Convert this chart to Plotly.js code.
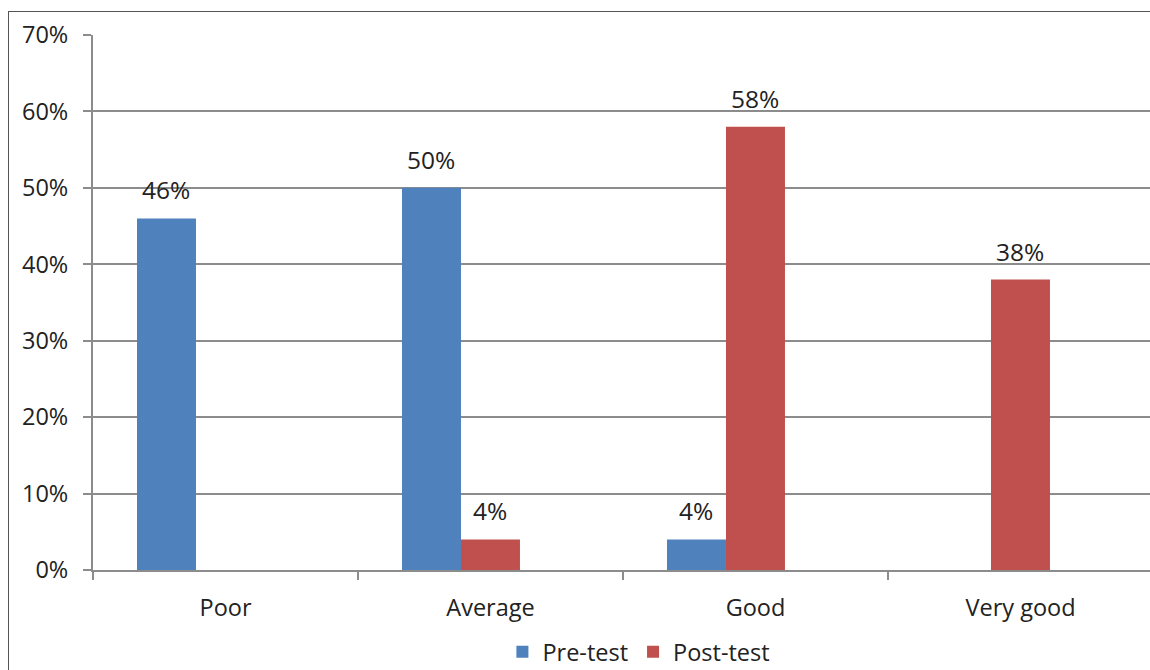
<!DOCTYPE html>
<html>
<head>
<meta charset="utf-8">
<script src="https://cdn.plot.ly/plotly-3.0.1.min.js"></script>
<style>
html,body{margin:0;padding:0;background:#fff;overflow:hidden;width:1150px;height:670px;}
#frame{position:absolute;left:8px;top:11px;width:1200px;height:700px;border:1px solid #555;box-sizing:border-box;}
#chart{position:absolute;left:0;top:0;width:1153px;height:670px;}
</style>
</head>
<body>
<div id="frame"></div>
<div id="chart"></div>
<script>
const categories = ['Poor', 'Average', 'Good', 'Very good'];
const preTest = [0.46, 0.50, 0.04, null];
const postTest = [null, 0.04, 0.58, 0.38];
const seriesNames = ['Pre-test', 'Post-test'];
const colors = ['#4F81BD', '#C0504D'];

const barW = 0.2226;
const firstOffset = -0.334;
const font = 'Open Sans, Liberation Sans, sans-serif';
const plotW = 1060;
const catPx = plotW / categories.length;

function mk(y, i) {
  return {
    type: 'bar', x: categories, y: y, name: seriesNames[i],
    marker: {color: colors[i], line: {width: 0}},
    width: barW, offset: firstOffset + i * barW,
    hoverinfo: 'skip'
  };
}
const allSeries = [preTest, postTest];
const data = allSeries.map(mk);

const annotations = [];
allSeries.forEach(function (ys, i) {
  const shift = (firstOffset + i * barW + barW / 2) * catPx;
  ys.forEach(function (v, j) {
    if (v === null) return;
    annotations.push({
      x: categories[j], y: v, xref: 'x', yref: 'y',
      text: Math.round(v * 100) + '%', showarrow: false,
      xanchor: 'center', yanchor: 'bottom', xshift: shift, yshift: 10,
      font: {family: font, size: 24.5, color: '#222'}
    });
  });
});

const grid = '#8c8c8c';
const layout = {
  width: 1153, height: 670,
  margin: {l: 93, r: 0, t: 35, b: 100, autoexpand: false},
  paper_bgcolor: 'rgba(0,0,0,0)', plot_bgcolor: 'rgba(0,0,0,0)',
  barmode: 'overlay',
  showlegend: true,
  annotations: annotations,
  legend: {orientation: 'h', x: 0.515, xanchor: 'center', y: -0.153, yanchor: 'middle',
           font: {family: font, size: 23.5, color: '#222'}, itemwidth: 30, traceorder: 'normal'},
  xaxis: {
    type: 'category', range: [-0.5, 3.5],
    showline: true, linecolor: grid, linewidth: 2,
    ticks: 'outside', tickson: 'boundaries', ticklen: 8, tickcolor: grid, tickwidth: 2,
    ticklabelstandoff: 16,
    tickfont: {family: font, size: 23.5, color: '#222'},
    showgrid: false, zeroline: false, fixedrange: true
  },
  yaxis: {
    range: [0, 0.7], dtick: 0.1, tickformat: '.0%',
    showline: true, linecolor: grid, linewidth: 2,
    ticks: 'outside', ticklen: 8, tickcolor: grid, tickwidth: 2,
    ticklabelstandoff: 10,
    showgrid: true, gridcolor: grid, gridwidth: 2,
    zeroline: false,
    tickfont: {family: font, size: 23.5, color: '#222'}, fixedrange: true
  }
};

Plotly.newPlot('chart', data, layout, {displayModeBar: false, staticPlot: true});
</script>
</body>
</html>
